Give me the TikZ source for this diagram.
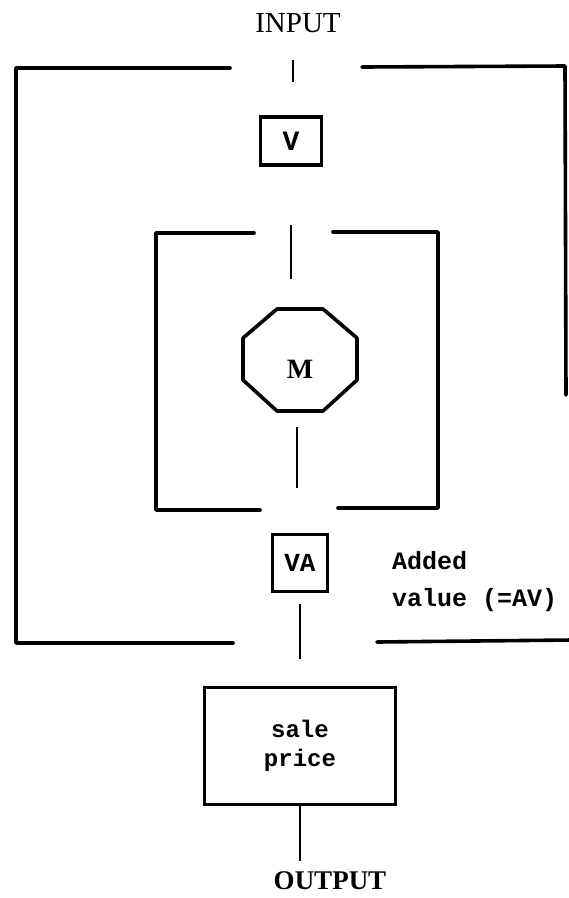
\documentclass[tikz,border=0pt]{standalone}
\usepackage{fontspec}
\setmainfont{Liberation Serif}
\setmonofont{Liberation Mono}
\usetikzlibrary{positioning,calc}
\tikzset{
  framerule/.style={line width=3.6pt,line cap=round,line join=round},
  stubrule/.style={line width=2.4pt},
  valuebox/.style={draw,line width=3.6pt,inner sep=0pt,font=\ttfamily\bfseries\fontsize{26}{30}\selectfont},
  notetext/.style={inner sep=0pt,align=left,font=\ttfamily\bfseries\fontsize{25}{37}\selectfont},
  flowtext/.style={inner sep=0pt,font=\fontsize{29}{33}\selectfont}
}

\begin{document}
\begin{tikzpicture}[x=1pt,y=-1pt]
\useasboundingbox (0,0) rectangle (569,898);
% input and output
\node[flowtext] (in) at (298,23) {INPUT};
\node[flowtext,font=\bfseries\fontsize{27}{30}\selectfont] (out) at (330,881) {OUTPUT};
% outer frame
\draw[framerule] (230,68) -- (16,68) -- (16,643) -- (233,643);
\draw[framerule] (362,67) -- (565,66) -- (566,395);
\draw[framerule] (377,642) -- (572,640);
\draw[stubrule] (293,60) -- (293,82);
% value boxes
\node[valuebox,minimum width=61pt,minimum height=48pt,font=\ttfamily\bfseries\fontsize{28}{32}\selectfont] (v) at (291,141) {V};
\node[valuebox,minimum width=55pt,minimum height=57pt] (va) at (300,563) {VA};
\node[notetext,anchor=north west] (av) at (392,551) {Added\\value (=AV)};
\node[valuebox,minimum width=191pt,minimum height=117pt,align=center,font=\ttfamily\bfseries\fontsize{24}{29}\selectfont] (sale) at (300,746) {sale\\price};
% inner frame with the octagon
\draw[framerule] (254,233) -- (156,233) -- (156,510) -- (260,510);
\draw[framerule] (333,232) -- (438,232) -- (438,508) -- (338,508);
\node[font=\bfseries\fontsize{28}{30}\selectfont] (m) at (300,369) {M};
\draw[framerule] ($(m)+(-23,-60)$) -- ($(m)+(23,-60)$) -- ($(m)+(57,-31)$) -- ($(m)+(57,11)$)
  -- ($(m)+(23,42)$) -- ($(m)+(-23,42)$) -- ($(m)+(-57,11)$) -- ($(m)+(-57,-31)$) -- cycle;
% stubs between the parts
\draw[stubrule] ([yshift=-58pt]v.south) -- ++(0,54);
\draw[stubrule] ($(m)+(-3,58)$) -- ++(0,61);
\draw[stubrule] ([yshift=-11pt]va.south) -- ++(0,55);
\coordinate[below=55pt of sale.south] (outend);
\draw[stubrule] (sale.south) -- (outend);
\end{tikzpicture}
\end{document}
